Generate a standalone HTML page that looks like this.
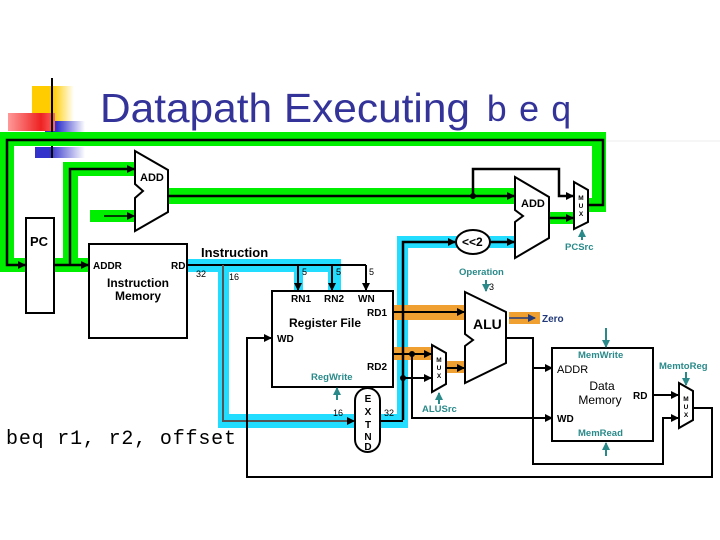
<!DOCTYPE html>
<html><head><meta charset="utf-8"><style>
html,body{margin:0;padding:0;background:#fff;}
svg{display:block;}
.b{font-family:"Liberation Sans",sans-serif;font-weight:bold;}
.t{fill:#2a8a8a;}
</style></head><body>
<svg width="720" height="540" viewBox="0 0 720 540" xmlns="http://www.w3.org/2000/svg">
<defs>
<marker id="a" markerWidth="8" markerHeight="8" refX="7" refY="4" orient="auto" markerUnits="userSpaceOnUse"><path d="M0,0 L8,4 L0,8z" fill="#000"/></marker>
<marker id="at" markerWidth="8" markerHeight="8" refX="7" refY="4" orient="auto" markerUnits="userSpaceOnUse"><path d="M0,0 L8,4 L0,8z" fill="#2a8a8a"/></marker>
<marker id="an" markerWidth="8" markerHeight="8" refX="7" refY="4" orient="auto" markerUnits="userSpaceOnUse"><path d="M0,0 L8,4 L0,8z" fill="#223a7a"/></marker>
<linearGradient id="gy" x1="0" x2="1"><stop offset="0.5" stop-color="#ffcc00"/><stop offset="1" stop-color="#fff"/></linearGradient>
<linearGradient id="gr" x1="0" x2="1"><stop offset="0" stop-color="#ff9999"/><stop offset="0.7" stop-color="#ee2222"/><stop offset="1" stop-color="#ff6666"/></linearGradient>
<linearGradient id="gb" x1="0" x2="1"><stop offset="0.3" stop-color="#3333cc"/><stop offset="1" stop-color="#fff"/></linearGradient>
</defs>
<rect x="32" y="86" width="42" height="38" fill="url(#gy)"/>
<rect x="45" y="121" width="40" height="16" fill="url(#gb)"/>
<rect x="35" y="147" width="50" height="11" fill="url(#gb)"/>
<rect x="8" y="113" width="47" height="18" fill="url(#gr)"/>
<line x1="52" y1="78" x2="52" y2="158" stroke="#000" stroke-width="2"/>
<text x="100" y="122" font-family="Liberation Sans,sans-serif" font-size="41" fill="#333399" textLength="370" lengthAdjust="spacingAndGlyphs">Datapath Executing</text>
<text x="486" y="121" font-family="Liberation Mono,monospace" font-size="36" fill="#333399" textLength="86">beq</text>
<line x1="606" y1="141" x2="720" y2="141" stroke="#eee" stroke-width="1"/>

<g fill="#00ee00">
<rect x="0" y="132" width="606" height="14"/>
<rect x="0" y="132" width="14" height="140"/>
<rect x="0" y="258" width="89" height="14"/>
<rect x="592" y="132" width="14" height="80"/>
<rect x="588" y="198" width="18" height="14"/>
<rect x="63" y="162" width="15" height="104"/>
<rect x="63" y="162" width="72" height="14"/>
<rect x="90" y="210" width="45" height="12"/>
<rect x="168" y="188" width="347" height="16"/>
<rect x="549" y="212" width="25" height="12"/>
</g>
<g fill="#22ddff">
<rect x="187" y="259" width="154" height="13"/>
<rect x="294" y="259" width="9" height="33"/>
<rect x="328" y="259" width="13" height="33"/>
<rect x="218" y="259" width="11" height="169"/>
<rect x="218" y="414" width="137" height="14"/>
<rect x="380" y="414" width="28" height="14"/>
<rect x="397" y="236" width="11" height="192"/>
<rect x="397" y="236" width="118" height="12"/>
</g>
<g fill="#f0a030">
<rect x="393" y="305" width="72" height="15"/>
<rect x="393" y="347" width="39" height="13"/>
<rect x="446" y="361" width="19" height="12"/>
<rect x="509" y="312" width="31" height="12"/>
</g>

<g stroke="#000" stroke-width="2.5" fill="none">
<polyline points="589,205 603,205 603,140 7,140 7,265 25,265" marker-end="url(#a)"/>
<polyline points="54,265 88,265" marker-end="url(#a)"/>
<polyline points="70,265 70,169 134,169" marker-end="url(#a)"/>
<polyline points="104,216 134,216" stroke-width="1.5" marker-end="url(#a)"/>
<polyline points="168,196 514,196" marker-end="url(#a)"/>
<polyline points="473,196 473,169 559,169 559,196 573,196" marker-end="url(#a)"/>
<polyline points="549,218 573,218" marker-end="url(#a)"/>
<polyline points="403,420 403,242 455,242" marker-end="url(#a)"/>
<polyline points="490,242 514,242" marker-end="url(#a)"/>
</g>
<g stroke="#000" stroke-width="2" fill="none">
<polyline points="187,265 366,265"/>
<polyline points="298,265 298,290" marker-end="url(#a)"/>
<polyline points="332,265 332,290" marker-end="url(#a)"/>
<polyline points="366,265 366,290" marker-end="url(#a)"/>
<polyline points="223,265 223,421 354,421" stroke="#555" marker-end="url(#a)"/>
<polyline points="380,421 403,421"/>
<polyline points="393,312 464,312" marker-end="url(#a)"/>
<polyline points="393,354 431,354" marker-end="url(#a)"/>
<polyline points="403,378 431,378" marker-end="url(#a)"/>
<polyline points="412,354 412,418 552,418" marker-end="url(#a)"/>
<polyline points="446,368 464,368" marker-end="url(#a)"/>
<polyline points="506,338 533,338 533,464 663,464 663,418 678,418" marker-end="url(#a)"/>
<polyline points="533,368 552,368" marker-end="url(#a)"/>
<polyline points="653,395 678,395" marker-end="url(#a)"/>
<polyline points="693,408 712,408 712,477 247,477 247,338 271,338" marker-end="url(#a)"/>
</g>
<line x1="509" y1="318" x2="535" y2="318" stroke="#223a7a" stroke-width="1.5" marker-end="url(#an)"/>
<circle cx="473" cy="196" r="3" fill="#000"/>
<circle cx="412" cy="354" r="3" fill="#000"/>
<circle cx="403" cy="378" r="3" fill="#000"/>

<g stroke="#000" stroke-width="2" fill="#fff">
<rect x="26" y="218" width="28" height="95"/>
<rect x="89" y="244" width="98" height="94"/>
<rect x="272" y="291" width="121" height="96"/>
<rect x="552" y="348" width="101" height="93"/>
<polygon points="135,151 168,170 168,212 135,231 135,198 143,191 135,184"/>
<polygon points="515,177 549,197 549,238 515,258 515,222 523,216 515,210"/>
<polygon points="465,292 506,312 506,363 465,383 465,346 473,340 465,334"/>
<polygon points="574,182 588,190 588,222 574,229"/>
<polygon points="432,345 446,353 446,384 432,392"/>
<polygon points="679,383 693,391 693,420 679,428"/>
<ellipse cx="473" cy="242" rx="17" ry="12"/>
<rect x="355" y="388" width="25" height="64" rx="12.5"/>
</g>

<g stroke="#2a8a8a" stroke-width="2">
<line x1="582" y1="240" x2="582" y2="230" marker-end="url(#at)"/>
<line x1="486" y1="280" x2="486" y2="291" marker-end="url(#at)"/>
<line x1="439" y1="404" x2="439" y2="393" marker-end="url(#at)"/>
<line x1="337" y1="400" x2="337" y2="388" marker-end="url(#at)"/>
<line x1="606" y1="328" x2="606" y2="347" marker-end="url(#at)"/>
<line x1="606" y1="456" x2="606" y2="443" marker-end="url(#at)"/>
<line x1="686" y1="372" x2="686" y2="385" marker-end="url(#at)"/>
</g>

<g class="b" font-size="11">
<text x="30" y="246" font-size="13">PC</text>
<text x="140" y="181">ADD</text>
<text x="521" y="207">ADD</text>
<text x="93" y="269" font-size="10">ADDR</text>
<text x="171" y="269" font-size="10">RD</text>
<text x="138" y="287" font-size="12" text-anchor="middle">Instruction</text>
<text x="138" y="300" font-size="12" text-anchor="middle">Memory</text>
<text x="201" y="257" font-size="13">Instruction</text>
<text x="291" y="302" font-size="10">RN1</text>
<text x="324" y="302" font-size="10">RN2</text>
<text x="358" y="302" font-size="10">WN</text>
<text x="367" y="316" font-size="10">RD1</text>
<text x="289" y="327" font-size="12">Register File</text>
<text x="277" y="342" font-size="10">WD</text>
<text x="367" y="370" font-size="10">RD2</text>
<text x="473" y="329" font-size="14">ALU</text>
<text x="462" y="246" font-size="12">&lt;&lt;2</text>
<text x="557" y="373" font-size="11" font-weight="normal">ADDR</text>
<text x="602" y="390" font-size="12" font-weight="normal" text-anchor="middle">Data</text>
<text x="600" y="404" font-size="12" font-weight="normal" text-anchor="middle">Memory</text>
<text x="633" y="399" font-size="10">RD</text>
<text x="557" y="422" font-size="10">WD</text>
<text x="542" y="322" font-size="10" fill="#223a7a">Zero</text>
<g class="t" font-size="9.5">
<text x="565" y="250">PCSrc</text>
<text x="459" y="275">Operation</text>
<text x="422" y="412">ALUSrc</text>
<text x="311" y="380">RegWrite</text>
<text x="578" y="358">MemWrite</text>
<text x="578" y="436">MemRead</text>
<text x="659" y="369">MemtoReg</text>
</g>
<g font-size="6.5" text-anchor="middle">
<text x="581" y="200">M</text><text x="581" y="208">U</text><text x="581" y="216">X</text>
<text x="439" y="362">M</text><text x="439" y="370">U</text><text x="439" y="378">X</text>
<text x="686" y="401">M</text><text x="686" y="409">U</text><text x="686" y="417">X</text>
</g>
<g font-size="10" text-anchor="middle">
<text x="368" y="402">E</text><text x="368" y="415">X</text><text x="368" y="428">T</text><text x="368" y="440">N</text><text x="368" y="450">D</text>
</g>
</g>
<g font-family="Liberation Sans,sans-serif" font-size="9">
<text x="196" y="277">32</text><text x="229" y="280">16</text>
<text x="302" y="275">5</text><text x="336" y="275">5</text><text x="369" y="275">5</text>
<text x="489" y="290">3</text>
<text x="333" y="416">16</text><text x="384" y="416">32</text>
</g>
<text x="6" y="444" font-family="Liberation Mono,monospace" font-size="20" textLength="230">beq r1, r2, offset</text>
</svg>
</body></html>
